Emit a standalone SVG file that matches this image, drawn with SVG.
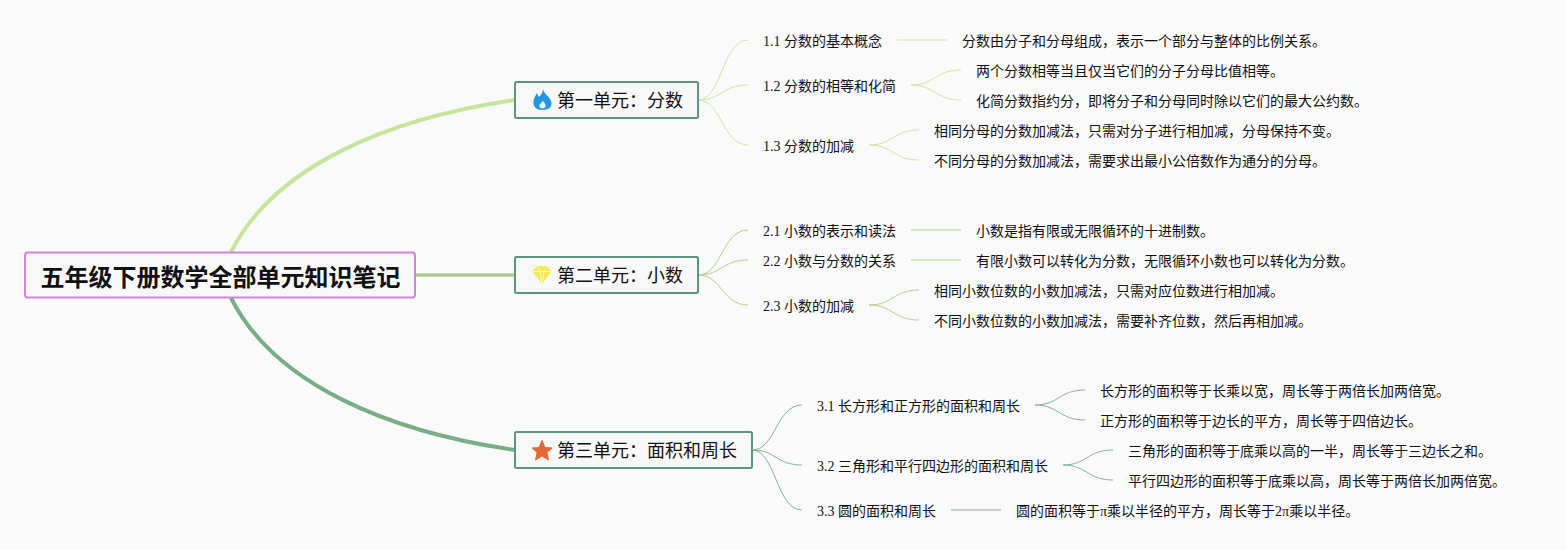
<svg xmlns="http://www.w3.org/2000/svg" width="1566" height="550" viewBox="0 0 1566 550">
<style>
text{font-family:"Liberation Serif","Noto Sans CJK SC",sans-serif;fill:#111;dominant-baseline:central}
.l{font-size:14px}
.u{font-size:18px}
.r{font-size:24px;font-weight:700;font-family:"Liberation Sans","Noto Sans CJK SC",sans-serif}
.box{fill:#f8f8f8;stroke:#5b9483;stroke-width:2}
.root{fill:#f8f8f8;stroke:#d283df;stroke-width:2}
#connectors path{fill:none}
.a{stroke:#cfe3a9;stroke-width:1}
.b{stroke:#b3cf8f;stroke-width:1}
.c{stroke:#82b497;stroke-width:1}
</style>
<rect width="1566" height="550" fill="#fafafa"/>
<g id="connectors">
<path d="M231 252C275 165 390 118 515 100" stroke="#c6e49c" stroke-width="4"/>
<path d="M415 275H515" stroke="#a9cf8a" stroke-width="3.500"/>
<path d="M231 298C275 385 390 432 515 450" stroke="#78ad87" stroke-width="4"/>
<path class="a" d="M698 100C722 100 722 40 748 40"/>
<path class="a" d="M698 100C722 100 722 85 748 85"/>
<path class="a" d="M698 100C722 100 722 145 748 145"/>
<path class="a" d="M897 40H947"/>
<path class="a" d="M911 85C935 85 935 70 961 70"/>
<path class="a" d="M911 85C935 85 935 100 961 100"/>
<path class="a" d="M869 145C893 145 893 130 919 130"/>
<path class="a" d="M869 145C893 145 893 160 919 160"/>
<path class="b" d="M698 275C722 275 722 230 748 230"/>
<path class="b" d="M698 275C722 275 722 260 748 260"/>
<path class="b" d="M698 275C722 275 722 305 748 305"/>
<path class="b" d="M911 230H961"/>
<path class="b" d="M911 260H961"/>
<path class="b" d="M869 305C893 305 893 290 919 290"/>
<path class="b" d="M869 305C893 305 893 320 919 320"/>
<path class="c" d="M752 450C776 450 776 405 802 405"/>
<path class="c" d="M752 450C776 450 776 465 802 465"/>
<path class="c" d="M752 450C776 450 776 510 802 510"/>
<path class="c" d="M1035 405C1059 405 1059 390 1085 390"/>
<path class="c" d="M1035 405C1059 405 1059 420 1085 420"/>
<path class="c" d="M1063 465C1087 465 1087 450 1113 450"/>
<path class="c" d="M1063 465C1087 465 1087 480 1113 480"/>
<path class="c" d="M951 510H1001"/>
</g>
<g id="root"><rect class="root" x="25" y="252.500" width="390" height="45" rx="3"/><text class="r" x="40.500" y="277">五年级下册数学全部单元知识笔记</text></g>
<g id="unit1"><rect class="box" x="515" y="82" width="183" height="36" rx="1.500"/>
<path d="M543 89C544 94 549 96 551 101C552.500 105 551 110 542 110C535 110 532 105 534 99C535 96 536 95 537 93C538 95 538 96 539 97C541 95 543 92 543 89Z" fill="#2196e3"/><path d="M543 101C544 103 546 104 545.500 106.500C545 109 540 109 539.500 107C539 104 541.500 103 543 101Z" fill="#f8f8f8"/>
<text class="u" x="557" y="101">第一单元：分数</text></g>
<g id="unit2"><rect class="box" x="515" y="257" width="183" height="36" rx="1.500"/>
<path d="M537 266H547L551.500 271.500L542 284L532.500 271.500Z" fill="#f6e84f"/><path d="M537 266L540 271.500L542 284L544 271.500L547 266M532.500 271.500H551.500" stroke="#fdf8b8" stroke-width="1" fill="none"/>
<text class="u" x="557" y="276">第二单元：小数</text></g>
<g id="unit3"><rect class="box" x="515" y="432" width="237" height="36" rx="1.500"/>
<path d="M542 440.500L545 447.500L552 448L546.800 452.500L548.500 460L542 456L535.500 460L537.200 452.500L532 448L539 447.500Z" fill="#e6672f" stroke="#e6672f" stroke-width="1" stroke-linejoin="round"/>
<text class="u" x="557" y="451">第三单元：面积和周长</text></g>
<g id="n11"><text class="l" x="763" y="41">1.1 分数的基本概念</text></g>
<g id="n12"><text class="l" x="763" y="86">1.2 分数的相等和化简</text></g>
<g id="n13"><text class="l" x="763" y="146">1.3 分数的加减</text></g>
<g id="n111"><text class="l" x="962" y="41">分数由分子和分母组成，表示一个部分与整体的比例关系。</text></g>
<g id="n121"><text class="l" x="976" y="71">两个分数相等当且仅当它们的分子分母比值相等。</text></g>
<g id="n122"><text class="l" x="976" y="101">化简分数指约分，即将分子和分母同时除以它们的最大公约数。</text></g>
<g id="n131"><text class="l" x="934" y="131">相同分母的分数加减法，只需对分子进行相加减，分母保持不变。</text></g>
<g id="n132"><text class="l" x="934" y="161">不同分母的分数加减法，需要求出最小公倍数作为通分的分母。</text></g>
<g id="n21"><text class="l" x="763" y="231">2.1 小数的表示和读法</text></g>
<g id="n22"><text class="l" x="763" y="261">2.2 小数与分数的关系</text></g>
<g id="n23"><text class="l" x="763" y="306">2.3 小数的加减</text></g>
<g id="n211"><text class="l" x="976" y="231">小数是指有限或无限循环的十进制数。</text></g>
<g id="n221"><text class="l" x="976" y="261">有限小数可以转化为分数，无限循环小数也可以转化为分数。</text></g>
<g id="n231"><text class="l" x="934" y="291">相同小数位数的小数加减法，只需对应位数进行相加减。</text></g>
<g id="n232"><text class="l" x="934" y="321">不同小数位数的小数加减法，需要补齐位数，然后再相加减。</text></g>
<g id="n31"><text class="l" x="817" y="406">3.1 长方形和正方形的面积和周长</text></g>
<g id="n32"><text class="l" x="817" y="466">3.2 三角形和平行四边形的面积和周长</text></g>
<g id="n33"><text class="l" x="817" y="511">3.3 圆的面积和周长</text></g>
<g id="n311"><text class="l" x="1100" y="391">长方形的面积等于长乘以宽，周长等于两倍长加两倍宽。</text></g>
<g id="n312"><text class="l" x="1100" y="421">正方形的面积等于边长的平方，周长等于四倍边长。</text></g>
<g id="n321"><text class="l" x="1128" y="451">三角形的面积等于底乘以高的一半，周长等于三边长之和。</text></g>
<g id="n322"><text class="l" x="1128" y="481">平行四边形的面积等于底乘以高，周长等于两倍长加两倍宽。</text></g>
<g id="n331"><text class="l" x="1016" y="511">圆的面积等于π乘以半径的平方，周长等于2π乘以半径。</text></g>
</svg>
